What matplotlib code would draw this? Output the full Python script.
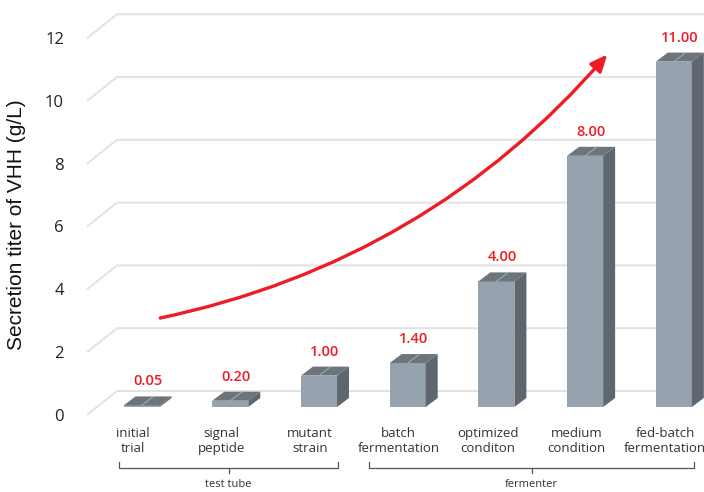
import matplotlib
matplotlib.use("Agg")
import matplotlib.pyplot as plt
from matplotlib.patches import Polygon, FancyArrowPatch

# data
categories = ["initial\ntrial", "signal\npeptide", "mutant\nstrain", "batch\nfermentation",
              "optimized\nconditon", "medium\ncondition", "fed-batch\nfermentation"]
titers = [0.05, 0.20, 1.00, 1.40, 4.00, 8.00, 11.00]
value_labels = ["0.05", "0.20", "1.00", "1.40", "4.00", "8.00", "11.00"]
yticks = [0, 2, 4, 6, 8, 10, 12]
groups = ["test tube", "fermenter"]
group_spans = [(-0.255, 2.215), (2.565, 6.23)]

# style / fake-3d geometry (in data units)
bar_w = 0.406
depth_dx, depth_dy = 0.135, 0.287
bar_base = 0.255
wall_dx, wall_dy = 0.338, 0.764
wall_x0 = -0.6156
front_col = "#96a3ae"
top_col = "#6c747c"
side_col = "#5f666f"
grid_col = "#e2e2e2"
red = "#ee1c25"

fig = plt.figure(figsize=(7.04, 4.92), dpi=100)
ax = fig.add_axes([0, 0, 1, 1])
ax.set_xlim(-1.596, 6.340)
ax.set_ylim(-2.452, 13.217)
ax.axis("off")

# back wall gridlines + left diagonals
for t in yticks:
    ax.plot([wall_x0, wall_x0 + wall_dx, 6.34], [t, t + wall_dy, t + wall_dy],
            color=grid_col, lw=1.4, zorder=1, solid_capstyle="butt")
    ax.text(-0.875, t - 0.06, str(t), ha="right", va="center", fontsize=12,
            family="Open Sans", color="#222222")

# bars
for i, (v, lab) in enumerate(zip(titers, value_labels)):
    xl, xr = i - bar_w / 2, i + bar_w / 2
    yb, yt = bar_base, bar_base + v
    front = Polygon([(xl, yb), (xr, yb), (xr, yt), (xl, yt)], closed=True,
                    facecolor=front_col, edgecolor="none", zorder=3)
    top = Polygon([(xl, yt), (xr, yt), (xr + depth_dx, yt + depth_dy), (xl + depth_dx, yt + depth_dy)],
                  closed=True, facecolor=top_col, edgecolor="none", zorder=3)
    side = Polygon([(xr, yb), (xr + depth_dx, yb + depth_dy), (xr + depth_dx, yt + depth_dy), (xr, yt)],
                   closed=True, facecolor=side_col, edgecolor="none", zorder=3)
    for p in (front, top, side):
        ax.add_patch(p)
    ax.plot([i, i + depth_dx], [yt, yt + depth_dy], color="#a7aeb5", lw=0.7, zorder=4)
    ax.text(i + depth_dx / 2, yt + depth_dy + 0.48, lab, ha="center", va="center",
            fontsize=10.5, family="Open Sans", fontweight="semibold", color=red, zorder=5)
    ax.text(i - 0.1, -0.38, categories[i], ha="center", va="top", fontsize=9.5,
            family="Open Sans", color="#333333", linespacing=1.2)

# group brackets
for name, (x0, x1) in zip(groups, group_spans):
    xm = (x0 + x1) / 2
    ax.plot([x0, x0, x1, x1], [-1.50, -1.69, -1.69, -1.50], color="#555555", lw=0.9)
    ax.plot([xm, xm], [-1.69, -1.85], color="#555555", lw=0.9)
    ax.text(xm, -2.22, name, ha="center", va="center", fontsize=8,
            family="Open Sans", color="#333333")

# trend arrow
arrow = FancyArrowPatch((0.18, 3.07), (5.27, 11.55), connectionstyle="arc3,rad=0.17",
                        arrowstyle="-|>,head_length=0.5,head_width=0.22", mutation_scale=20,
                        color=red, lw=2.4, zorder=6)
ax.add_patch(arrow)

ax.text(-1.415, 6.05, "Secretion titer of VHH (g/L)", rotation=90, ha="center", va="center",
        fontsize=15, family="Liberation Sans", color="#111111")

fig.savefig("out.png", dpi=100)
